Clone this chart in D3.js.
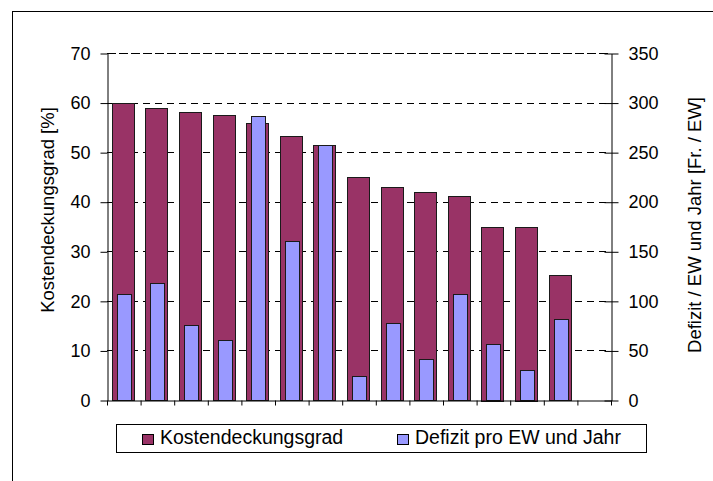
<!DOCTYPE html>
<html>
<head>
<meta charset="utf-8">
<script src="https://cdn.jsdelivr.net/npm/d3@7"></script>
<style>
  html, body { margin: 0; padding: 0; background: #fff; }
  svg { display: block; font-family: "Liberation Sans", Arial, sans-serif; }
</style>
</head>
<body>
<svg id="chart" width="713" height="481"></svg>
<script>
// 15 Kategorien, die letzte ist leer
const categories = ['1', '2', '3', '4', '5', '6', '7', '8', '9', '10', '11', '12', '13', '14', '15']
const kostendeckung = [60, 59, 58, 57.5, 55.8, 53.2, 51.4, 45, 43, 42, 41.1, 35, 35, 25.2, null] // %
const defizit = [107, 118, 76, 61, 286, 160, 257, 24, 78, 41, 107, 56, 30, 82, null] // Fr. / EW
const leftTicks = [0, 10, 20, 30, 40, 50, 60, 70]
const rightTicks = [0, 50, 100, 150, 200, 250, 300, 350]
const seriesNames = ['Kostendeckungsgrad', 'Defizit pro EW und Jahr']
const seriesColors = ['#993366', '#9999ff']

const svg = d3.select('#chart')
const plot = { left: 107, right: 611, top: 53, bottom: 400 }

// Rahmen (rechts/unten ausserhalb des Bildes)
svg.append('rect')
  .attr('x', 12.5).attr('y', 11.5)
  .attr('width', 800).attr('height', 600)
  .attr('fill', 'none').attr('stroke', '#000')

const x = d3.scaleBand()
  .domain(categories)
  .range([plot.left, plot.right])
  .paddingInner(0)
const xEdge = d3.scaleLinear()
  .domain([0, categories.length])
  .range([plot.left, plot.right])
const yLeft = d3.scaleLinear().domain([0, 70]).range([plot.bottom, plot.top])
const yRight = d3.scaleLinear().domain([0, 350]).range([plot.bottom, plot.top])

/* ------- Gitterlinien ------- */
svg.append('g')
  .selectAll('line')
  .data(leftTicks.filter((d) => d > 0))
  .enter()
  .append('line')
  .attr('x1', plot.left).attr('x2', plot.right)
  .attr('y1', (d) => Math.round(yLeft(d)) + 0.5)
  .attr('y2', (d) => Math.round(yLeft(d)) + 0.5)
  .attr('stroke', '#000')
  .attr('stroke-dasharray', (d) => d === 70 ? '9,3' : '7,5')

/* ------- Balken ------- */
const step = x.bandwidth()
const wideW = step * 0.66
const narrowW = step * 0.42

svg.append('g')
  .selectAll('rect')
  .data(categories.map((c, i) => ({ c, v: kostendeckung[i] })).filter((d) => d.v !== null))
  .enter()
  .append('rect')
  .attr('x', (d) => Math.round(x(d.c) + (step - wideW) / 2 - 1) + 0.5)
  .attr('width', Math.round(wideW))
  .attr('y', (d) => Math.round(yLeft(d.v)) + 0.5)
  .attr('height', (d) => Math.round(plot.bottom - yLeft(d.v)))
  .attr('fill', seriesColors[0])
  .attr('stroke', '#1a1a1a')

svg.append('g')
  .selectAll('rect')
  .data(categories.map((c, i) => ({ c, v: defizit[i] })).filter((d) => d.v !== null))
  .enter()
  .append('rect')
  .attr('x', (d) => Math.round(x(d.c) + (step - narrowW) / 2) + 0.5)
  .attr('width', Math.round(narrowW))
  .attr('y', (d) => Math.round(yRight(d.v)) + 0.5)
  .attr('height', (d) => Math.round(plot.bottom - yRight(d.v)))
  .attr('fill', seriesColors[1])
  .attr('stroke', '#1a1a1a')

/* ------- Achsen ------- */
function styleAxis(g) {
  g.select('.domain').attr('stroke', '#000')
  g.selectAll('.tick line').attr('stroke', '#000')
  g.selectAll('.tick text')
    .attr('fill', '#000')
    .style('font-size', '18px')
    .style('font-family', '"Liberation Sans", Arial, sans-serif')
}

svg.append('g')
  .attr('transform', `translate(${plot.left + 0.5},0.5)`)
  .call(d3.axisLeft(yLeft).tickValues(leftTicks).tickSize(7).tickSizeOuter(0).tickPadding(10))
  .call(styleAxis)

const rAxis = svg.append('g')
  .attr('transform', `translate(${plot.right + 0.5},0.5)`)
  .call(d3.axisRight(yRight).tickValues(rightTicks).tickSize(7).tickSizeOuter(0).tickPadding(10))
  .call(styleAxis)
rAxis.selectAll('.tick line').attr('x1', -7)

svg.append('g')
  .attr('transform', `translate(0,${plot.bottom + 0.5})`)
  .call(d3.axisBottom(xEdge).ticks(categories.length).tickFormat('').tickSize(5).tickSizeOuter(0))
  .call(styleAxis)

/* ------- Achsentitel ------- */
svg.append('text')
  .attr('transform', 'translate(54,210) rotate(-90)')
  .attr('text-anchor', 'middle')
  .style('font-size', '18.5px')
  .text('Kostendeckungsgrad [%]')

svg.append('text')
  .attr('transform', 'translate(701,225) rotate(-90)')
  .attr('text-anchor', 'middle')
  .style('font-size', '18.5px')
  .text('Defizit / EW und Jahr [Fr. / EW]')

/* ------- Legende ------- */
const legend = svg.append('g')
legend.append('rect')
  .attr('x', 116.5).attr('y', 424.5)
  .attr('width', 530).attr('height', 28)
  .attr('fill', '#fff').attr('stroke', '#000')

const legendX = [142, 397]
const item = legend.selectAll('g.item')
  .data(seriesNames)
  .enter()
  .append('g')
  .attr('class', 'item')
  .attr('transform', (d, i) => `translate(${legendX[i]},0)`)
item.append('rect')
  .attr('x', 0.5).attr('y', 434.5)
  .attr('width', 11).attr('height', 10)
  .attr('fill', (d, i) => seriesColors[i])
  .attr('stroke', '#000')
item.append('text')
  .attr('x', 18).attr('y', 444)
  .style('font-size', '19.5px')
  .text((d) => d)
</script>
</body>
</html>
